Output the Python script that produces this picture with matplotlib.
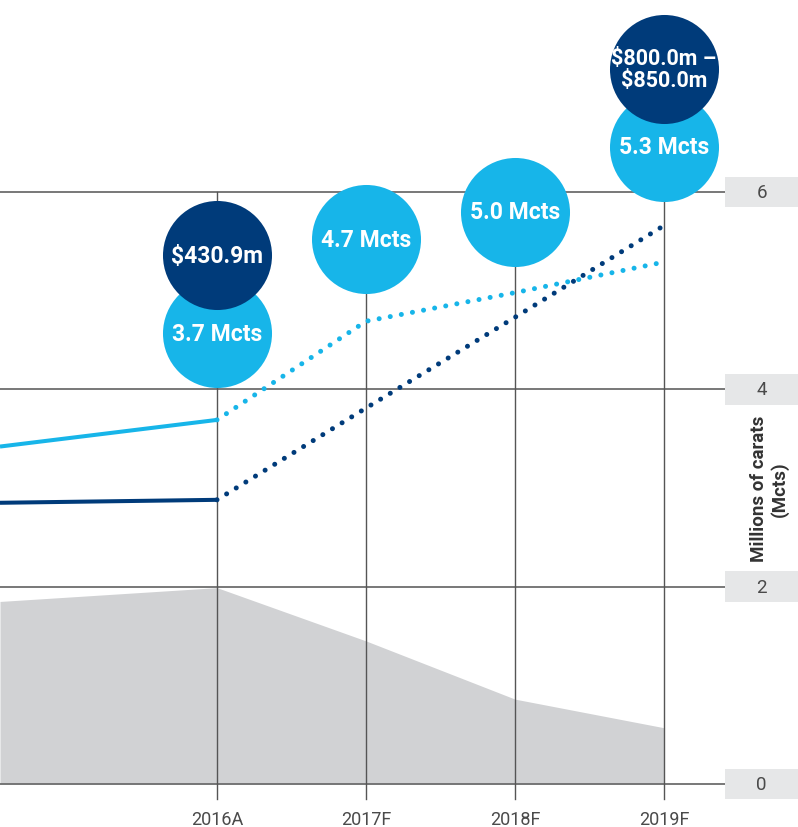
import matplotlib
matplotlib.use("Agg")
import matplotlib.pyplot as plt
from matplotlib.patches import Rectangle
import numpy as np

# ---- data ----
categories = ["2016A", "2017F", "2018F", "2019F"]
cat_x = [2016, 2017, 2018, 2019]
edge_x = 2014.544               # visible left edge of the (cropped) history
carats_edge = 3.42
carats = [3.69, 4.69, 4.98, 5.29]          # light blue line (Mcts)
revenue_edge = 2.85
revenue = [2.88, 3.81, 4.73, 5.66]         # dark blue line (scaled)
area_edge = 1.85
area = [1.99, 1.45, 0.86, 0.57]            # grey area
carat_labels = ["3.7 Mcts", "4.7 Mcts", "5.0 Mcts", "5.3 Mcts"]
carat_bubble_y = [4.57, 5.52, 5.80, 6.46]
rev_label_x = [2016, 2019]
rev_labels = ["$430.9m", "$800.0m –\n$850.0m"]
rev_bubble_y = [5.36, 7.25]
yticks = [0, 2, 4, 6]

LIGHT = "#17b5e9"
DARK = "#003b7a"
GREY = "#d1d2d4"
BOX = "#e6e7e8"
TXT = "#4a4a4a"
FONT = ["Roboto", "DejaVu Sans"]

fig = plt.figure(figsize=(7.98, 8.28), dpi=100)
ax = fig.add_axes([0, 0, 1, 1])
ax.set_xlim(edge_x, 2019.899)
ax.set_ylim(-0.436, 7.956)
ax.axis("off")

# grey area
ax.fill_between([edge_x] + cat_x, 0, [area_edge] + area, color=GREY, lw=0, zorder=1)

# horizontal gridlines and tick boxes
x_box = 2019.41
for t in yticks:
    ax.plot([edge_x, x_box], [t, t], color="#6d6d6d", lw=1.3, zorder=2)
    ax.add_patch(Rectangle((x_box, t - 0.155), 1.0, 0.31, color=BOX, lw=0, zorder=2))
    ax.text(2019.655, t, str(t), ha="center", va="center", fontsize=13.5,
            color=TXT, family=FONT, zorder=3)

# vertical lines
for x, lab in zip(cat_x, categories):
    ax.plot([x, x], [-0.15, 6], color="#555555", lw=1.0, zorder=2)
    ax.text(x, -0.355, lab, ha="center", va="center",
            fontsize=13, color=TXT, family=FONT)

# lines
ax.plot([edge_x, cat_x[0]], [carats_edge, carats[0]], color=LIGHT, lw=2.9,
        solid_capstyle="butt", zorder=4)
ax.plot(cat_x, carats, color=LIGHT, lw=3.6, linestyle=(0, (0.01, 2.25)),
        dash_capstyle="round", zorder=4)
ax.plot([edge_x, cat_x[0]], [revenue_edge, revenue[0]], color=DARK, lw=2.9,
        solid_capstyle="butt", zorder=4)
ax.plot(cat_x, revenue, color=DARK, lw=3.6, linestyle=(0, (0.01, 2.25)),
        dash_capstyle="round", zorder=4)

# bubbles
S = 78.5 ** 2
ax.scatter(cat_x, carat_bubble_y, s=S, color=LIGHT, lw=0, zorder=5)
for x, y, lab in zip(cat_x, carat_bubble_y, carat_labels):
    ax.text(x, y, lab, ha="center", va="center", color="white", fontsize=16.5,
            fontweight="bold", family=FONT, zorder=7)
ax.scatter(rev_label_x, rev_bubble_y, s=S, color=DARK, lw=0, zorder=6)
for x, y, lab in zip(rev_label_x, rev_bubble_y, rev_labels):
    fs = 16.5 if "\n" not in lab else 15.5
    ax.text(x, y, lab, ha="center", va="center", color="white", fontsize=fs,
            fontweight="bold", family=FONT, linespacing=1.0, zorder=7)

# y-axis title
ax.text(2019.71, 3.0, "Millions of carats\n(Mcts)", rotation=90, ha="center",
        va="center", fontsize=13.5, fontweight="bold", color="#333333",
        family=FONT, linespacing=1.15)

fig.savefig("out.png", dpi=100)
